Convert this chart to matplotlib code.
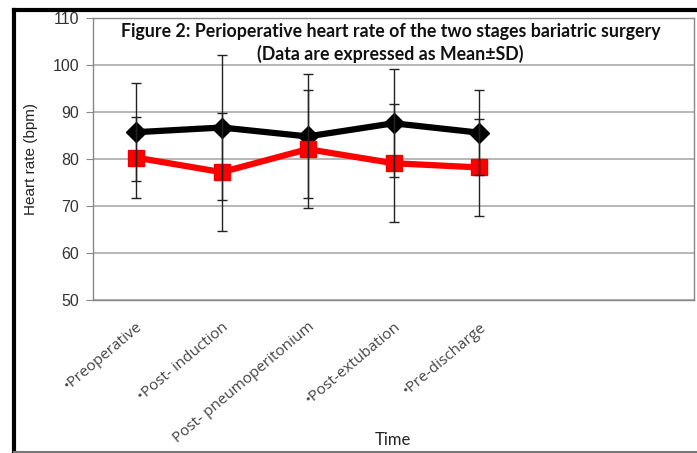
import numpy as np
import matplotlib
matplotlib.use('Agg')
import matplotlib.pyplot as plt
from matplotlib.lines import Line2D

# Data (mean and SD, bpm)
categories = ['•Preoperative', '•Post- induction', 'Post- pneumoperitonium',
              '•Post-extubation', '•Pre-discharge']
stage1_mean = [85.7, 86.7, 84.8, 87.6, 85.6]
stage1_sd = [10.4, 15.4, 13.2, 11.5, 9.1]
stage2_mean = [80.3, 77.2, 82.1, 79.1, 78.2]
stage2_sd = [8.7, 12.5, 12.6, 12.6, 10.3]
y_ticks = [50, 60, 70, 80, 90, 100, 110]

x = np.arange(len(categories))

fig = plt.figure(figsize=(6.97, 4.53), dpi=100)
ax = fig.add_axes([93 / 697, 1 - 300 / 453, (694 - 93) / 697, (300 - 18) / 453])

# Series lines with markers
ax.plot(x, stage1_mean, color='black', linewidth=4.5, marker='D', markersize=10.5, zorder=3)
ax.plot(x, stage2_mean, color='#ff0000', linewidth=4.5, marker='s', markersize=11,
        markeredgecolor='#ee0000', zorder=3)

# Error bars (thin black)
ax.errorbar(x, stage1_mean, yerr=stage1_sd, fmt='none', ecolor='#222222',
            elinewidth=1, capsize=3.5, capthick=1, zorder=4)
ax.errorbar(x, stage2_mean, yerr=stage2_sd, fmt='none', ecolor='#222222',
            elinewidth=1, capsize=3.5, capthick=1, zorder=4)

# Axes: 7 category slots, only 5 used
ax.set_xlim(-0.5, 6.5)
ax.set_ylim(50, 110)
ax.set_yticks(y_ticks)
ax.set_yticklabels([str(v) for v in y_ticks], fontsize=11.5, color='#333333',
                   family='Liberation Sans')
ax.set_xticks(x)
ax.set_xticklabels(categories, rotation=40, ha='right', va='top',
                   rotation_mode='anchor', fontsize=11, color='#444444', family='Open Sans')
ax.tick_params(axis='x', length=0, pad=14)
ax.tick_params(axis='y', length=5, color='#888888', direction='out', pad=5)

ax.grid(axis='y', color='#aaaaaa', linewidth=1.2)
ax.set_axisbelow(True)
for s in ax.spines.values():
    s.set_color('#888888')
    s.set_linewidth(1)

ax.set_ylabel('Heart rate (bpm)', fontsize=11, color='#222222', family='Liberation Sans')
ax.yaxis.set_label_coords((38 - 93) / 601, 0.5)

fig.text(393 / 697, 1 - 440 / 453, 'Time', ha='center', va='center',
         fontsize=12, color='#222222', family='Lato')

# Title inside plot area
ax.text(0.495, 0.982, 'Figure 2: Perioperative heart rate of the two stages bariatric surgery\n'
        '(Data are expressed as Mean\u00b1SD)', transform=ax.transAxes,
        ha='center', va='top', fontsize=12.8, fontweight='bold', color='#111111',
        family='Lato', linespacing=1.3)

# Outer frame of the figure
fig.add_artist(Line2D([14 / 697, 14 / 697], [0, 1 - 10 / 453], color='black', linewidth=3,
                      transform=fig.transFigure))
fig.add_artist(Line2D([14 / 697, 1], [1 - 10 / 453, 1 - 10 / 453], color='black', linewidth=3,
                      transform=fig.transFigure))
fig.add_artist(Line2D([14 / 697, 1], [1.5 / 453, 1.5 / 453], color='#777777', linewidth=1.5,
                      transform=fig.transFigure))

fig.savefig('out.png', dpi=100)
